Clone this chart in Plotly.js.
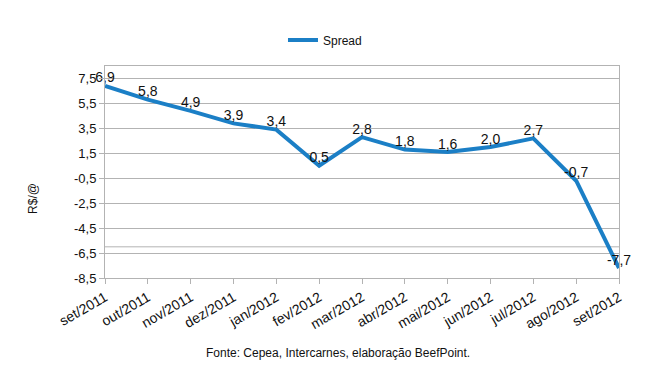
<!DOCTYPE html>
<html>
<head>
<meta charset="utf-8">
<script src="https://cdn.plot.ly/plotly-3.0.1.min.js"></script>
<style>html,body{margin:0;padding:0;background:#fff}#chart{width:650px;height:380px}</style>
</head>
<body>
<div id="chart"></div>
<script>
const categories = ["set/2011","out/2011","nov/2011","dez/2011","jan/2012","fev/2012","mar/2012","abr/2012","mai/2012","jun/2012","jul/2012","ago/2012","set/2012"];
const spread = [6.9, 5.8, 4.9, 3.9, 3.4, 0.5, 2.8, 1.8, 1.6, 2.0, 2.7, -0.7, -7.7];
const seriesName = "Spread";
const yTickVals = [-8.5, -6.5, -4.5, -2.5, -0.5, 1.5, 3.5, 5.5, 7.5];
const yTitle = "R$/@";
const footer = "Fonte: Cepea, Intercarnes, elaboração BeefPoint.";

const fmt = v => v.toFixed(1).replace('.', ',');
const color = '#1b7fc6';
const font = 'Liberation Sans, Arial, sans-serif';

const traces = [
  {x: categories, y: spread, type: 'scatter', mode: 'lines', name: seriesName,
   line: {color: color, width: 4}, showlegend: true},
  {x: categories, y: spread, type: 'scatter', mode: 'text', showlegend: false,
   text: spread.map(fmt), textposition: 'top center', cliponaxis: false,
   textfont: {family: font, size: 14, color: '#111'}, hoverinfo: 'skip'}
];

const layout = {
  width: 650, height: 380,
  margin: {l: 105, r: 31, t: 66, b: 102},
  paper_bgcolor: '#fff', plot_bgcolor: '#fff',
  font: {family: font, color: '#111'},
  separators: ',.',
  showlegend: true,
  legend: {orientation: 'h', x: 0.428, y: 1.123, xanchor: 'center', yanchor: 'middle',
           font: {size: 12, family: font}},
  xaxis: {type: 'category', range: [0, categories.length - 1],
          showgrid: false, showline: true, linecolor: '#b3b3b3', linewidth: 1, mirror: true,
          ticks: 'outside', ticklen: 5, tickcolor: '#b3b3b3', tickangle: -30,
          tickfont: {size: 14, family: font, color: '#111'}, zeroline: false},
  yaxis: {range: [-8.5, 8.5], tickvals: yTickVals, ticktext: yTickVals.map(fmt),
          showgrid: true, gridcolor: '#b3b3b3', gridwidth: 1,
          showline: true, linecolor: '#b3b3b3', linewidth: 1, mirror: true,
          ticks: 'outside', ticklen: 5, tickcolor: '#b3b3b3',
          tickfont: {size: 13, family: font, color: '#111'}, zeroline: false},
  shapes: [
    {type: 'line', xref: 'paper', x0: 0, x1: 1, yref: 'y', y0: -6.0, y1: -6.0,
     line: {color: '#b3b3b3', width: 1}, layer: 'below'}
  ],
  annotations: [
    {text: yTitle, xref: 'paper', yref: 'paper', x: -0.14, y: 0.373, textangle: -90,
     showarrow: false, xanchor: 'center', yanchor: 'middle', font: {size: 12, family: font, color: '#111'}},
    {text: footer, xref: 'paper', yref: 'paper', x: 0.453, y: -0.354,
     showarrow: false, xanchor: 'center', yanchor: 'middle', font: {size: 12, family: font, color: '#111'}}
  ]
};

Plotly.newPlot('chart', traces, layout, {displayModeBar: false, staticPlot: true});
</script>
</body>
</html>
